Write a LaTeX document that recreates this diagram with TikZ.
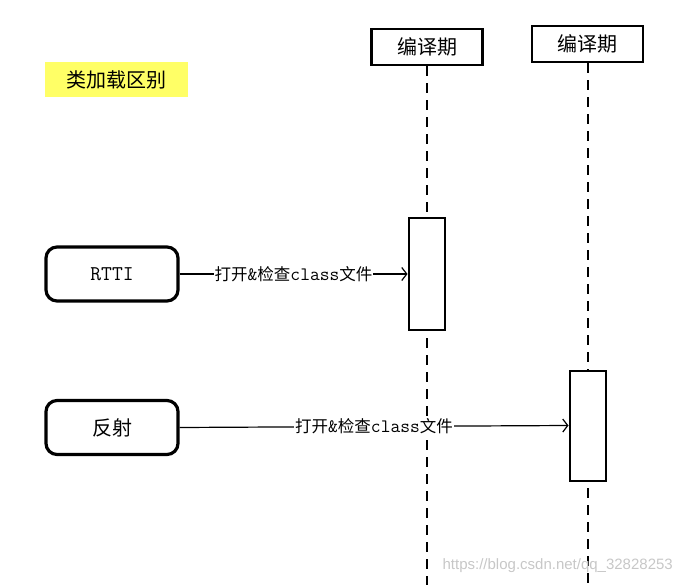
\documentclass[tikz,border=0pt]{standalone}
\usepackage{fontspec}
\newfontfamily\cjk{Noto Sans CJK SC}
\usetikzlibrary{arrows.meta}
\definecolor{tagyellow}{RGB}{255,255,102}
\newcommand\lbltt[1]{{\ttfamily\fontsize{19}{19}\selectfont #1}}
\tikzset{
  head/.style={draw, line width=2.8pt, fill=white, minimum width=111pt, minimum height=36pt, inner sep=0pt, font=\cjk\fontsize{20}{20}\selectfont},
  actbox/.style={draw, line width=2pt, fill=white, minimum width=36pt, inner sep=0pt},
  lifeline/.style={line width=1.5pt, dash pattern=on 10pt off 7pt},
  rbox/.style={draw, line width=3.2pt, rounded corners=11pt, fill=white, minimum width=132pt, minimum height=54pt, inner sep=0pt},
  msg/.style={line width=1.2pt, -{Straight Barb[length=5pt,width=13pt,line width=1.2pt]}},
  msglabel/.style={fill=white, inner sep=1pt, font=\cjk\fontsize{16.5}{16.5}\selectfont},
}
\begin{document}
\begin{tikzpicture}[x=1pt,y=-1pt]
\useasboundingbox (0,0) rectangle (685,585);
% title tag
\node[fill=tagyellow, minimum width=143pt, minimum height=35pt, inner sep=0pt, font=\cjk\fontsize{20}{20}\selectfont] (tag) at (116.5,79.5) {类加载区别};
% lifelines
\coordinate (e1) at (427,585);
\coordinate (e2) at (588,585);
\node[head] (h1) at (427,47) {编译期};
\node[head] (h2) at (587.5,44) {编译期};
\draw[lifeline] (h1.south) -- (e1);
\draw[lifeline] (h2.south -| e2) -- (e2);
% activations
\node[actbox, minimum height=111pt] (a1) at (426.5,274) {};
\node[actbox, minimum height=110pt] (a2) at (587.5,425.5) {};
% left boxes
\node[rbox, font=\ttfamily\fontsize{21}{21}\selectfont] (r1) at (112,274) {RTTI};
\node[rbox, font=\cjk\fontsize{20}{20}\selectfont] (r2) at (112,427.5) {反射};
% messages
\draw[msg] (r1.east) -- node[msglabel] {打开\lbltt{\&}检查\lbltt{class}文件} (a1.west);
\draw[msg] (r2.east) -- node[msglabel] {打开\lbltt{\&}检查\lbltt{class}文件} (a2.west);
% watermark
\node[text=black!22, font=\fontspec{Liberation Sans}\fontsize{15}{15}\selectfont, anchor=east, inner sep=0pt] (wm) at (673,566) {https://blog.csdn.net/qq\_32828253};
\end{tikzpicture}
\end{document}
